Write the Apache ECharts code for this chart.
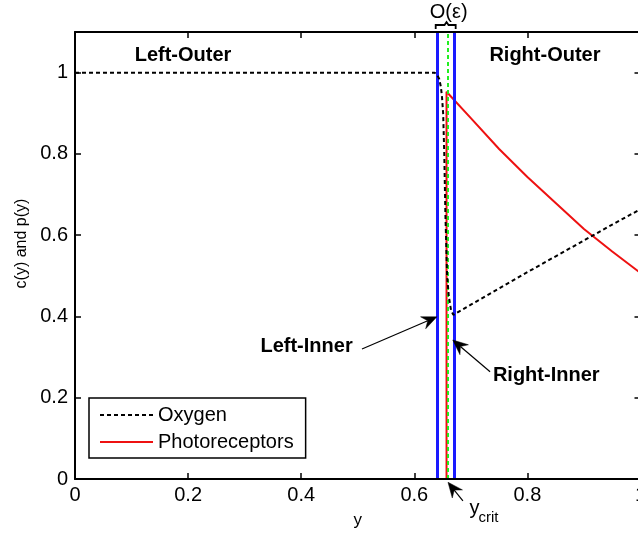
<!DOCTYPE html>
<html>
<head>
<meta charset="utf-8">
<script src="https://cdn.jsdelivr.net/npm/echarts@6/dist/echarts.min.js"></script>
<style>
html,body{margin:0;padding:0;overflow:hidden;background:#fff;}
#chart{width:642px;height:542px;}
</style>
</head>
<body>
<div id="chart"></div>
<script>
// ---- data ----
const oxygenY = [0, 0.636, 0.640, 0.644, 0.647, 0.649, 0.651, 0.653, 0.655, 0.658, 0.661, 0.665, 0.669, 0.70, 0.75, 0.80, 0.85, 0.90, 0.95, 1.0];
const oxygenC = [1, 1, 0.995, 0.985, 0.965, 0.94, 0.90, 0.80, 0.65, 0.50, 0.45, 0.415, 0.404, 0.429, 0.469, 0.509, 0.548, 0.587, 0.626, 0.664];
const photoY = [0, 0.657, 0.657, 0.70, 0.75, 0.80, 0.85, 0.90, 0.95, 1.0];
const photoP = [0, 0, 0.953, 0.888, 0.812, 0.743, 0.679, 0.615, 0.560, 0.507];
const ycrit = 0.657;
const innerBounds = [0.6396, 0.6714];
const xTickValues = [0, 0.2, 0.4, 0.6, 0.8, 1];
const yTickValues = [0, 0.2, 0.4, 0.6, 0.8, 1];
const seriesNames = ['Oxygen', 'Photoreceptors'];

const FONT = 'Liberation Sans, Arial, sans-serif';
const chart = echarts.init(document.getElementById('chart'), null, {renderer: 'canvas'});

const axisBase = {
  type: 'value', min: 0, z: 10,
  axisLine: {show: true, onZero: false, lineStyle: {color: '#000', width: 2}},
  axisTick: {show: true, inside: true, length: 6, lineStyle: {color: '#000', width: 1.5}},
  splitLine: {show: false}
};

const option = {
  animation: false,
  backgroundColor: '#fff',
  grid: {left: 75, top: 32, bottom: 63, right: 1.5, outerBoundsMode: 'none', containLabel: false},
  legend: {
    data: seriesNames,
    orient: 'vertical',
    left: 89, top: 398,
    borderColor: '#000', borderWidth: 1.5,
    padding: [7, 12, 6, 10],
    itemWidth: 53, itemHeight: 14, itemGap: 7,
    itemStyle: {opacity: 0},
    textStyle: {fontSize: 20, fontFamily: FONT, color: '#000', padding: [0, 8, 0, 0]},
    backgroundColor: '#fff'
  },
  xAxis: [
    Object.assign({}, axisBase, {
      position: 'bottom', max: 1, interval: 0.2,
      axisTick: Object.assign({}, axisBase.axisTick, {customValues: xTickValues}),
      axisLabel: {customValues: xTickValues, fontSize: 20, fontFamily: FONT, color: '#000', margin: 6},
      name: 'y', nameLocation: 'middle', nameGap: 33,
      nameTextStyle: {fontSize: 17, fontFamily: FONT, color: '#000'}
    }),
    Object.assign({}, axisBase, {
      position: 'top', max: 1, interval: 0.2,
      axisTick: Object.assign({}, axisBase.axisTick, {customValues: xTickValues}),
      axisLabel: {show: false}
    })
  ],
  yAxis: [
    Object.assign({}, axisBase, {
      position: 'left', max: 1.1, interval: 0.2,
      axisTick: Object.assign({}, axisBase.axisTick, {customValues: yTickValues}),
      axisLabel: {customValues: yTickValues, fontSize: 20, fontFamily: FONT, color: '#000', margin: 7},
      name: 'c(y) and p(y)', nameLocation: 'middle', nameGap: 28,
      nameTextStyle: {fontSize: 16, fontFamily: FONT, color: '#000', padding: [0, 0, 0, 24]}
    }),
    Object.assign({}, axisBase, {
      position: 'right', max: 1.1, interval: 0.2,
      axisTick: Object.assign({}, axisBase.axisTick, {customValues: yTickValues}),
      axisLabel: {show: false}
    })
  ],
  series: [
    {
      name: seriesNames[0], type: 'line', xAxisIndex: 0, yAxisIndex: 0,
      data: oxygenY.map((v, i) => [v, oxygenC[i]]),
      symbol: 'none', z: 5,
      lineStyle: {color: '#000', width: 2, type: [4, 3]},
      itemStyle: {color: '#000'}
    },
    {
      name: seriesNames[1], type: 'line', xAxisIndex: 0, yAxisIndex: 0,
      data: photoY.map((v, i) => [v, photoP[i]]),
      symbol: 'none', z: 4,
      lineStyle: {color: '#ee1111', width: 2},
      itemStyle: {color: '#ee1111'}
    },
    {
      name: 'bounds', type: 'line', xAxisIndex: 0, yAxisIndex: 0, data: [], z: 3,
      markLine: {
        silent: true, symbol: ['none', 'none'], label: {show: false},
        lineStyle: {color: '#1a1aff', width: 3, type: 'solid'},
        emphasis: {disabled: true},
        data: innerBounds.map(v => ({xAxis: v}))
      }
    },
    {
      name: 'ycrit', type: 'line', xAxisIndex: 0, yAxisIndex: 0, data: [], z: 6,
      markLine: {
        silent: true, symbol: ['none', 'none'], label: {show: false},
        lineStyle: {color: '#22ee22', width: 2, type: [4, 3]},
        emphasis: {disabled: true},
        data: [{xAxis: ycrit}]
      }
    }
  ]
};
chart.setOption(option);

// ---- annotations (anchored in data coordinates) ----
const P = (x, y) => chart.convertToPixel({gridIndex: 0}, [x, y]);
const labels = [
  {text: 'Left-Outer', at: [0.191, 1.042], align: 'center'},
  {text: 'Right-Outer', at: [0.831, 1.042], align: 'center'},
  {text: 'Left-Inner', at: [0.491, 0.325], align: 'right'},
  {text: 'Right-Inner', at: [0.739, 0.254], align: 'left'}
];
const arrows = [
  {from: [0.5075, 0.320], to: [0.6400, 0.399]},
  {from: [0.7340, 0.264], to: [0.6680, 0.342]},
  {from: [0.6860, -0.054], to: [0.6596, -0.008]}
];
const g = [];
labels.forEach(l => {
  const p = P(l.at[0], l.at[1]);
  g.push({type: 'text', x: p[0], y: p[1], z: 100,
    style: {text: l.text, font: 'bold 20px ' + FONT, fill: '#000', align: l.align, verticalAlign: 'middle'}});
});
arrows.forEach(a => {
  const t = P(a.from[0], a.from[1]);
  const h = P(a.to[0], a.to[1]);
  const dx = h[0] - t[0], dy = h[1] - t[1];
  const len = Math.sqrt(dx * dx + dy * dy);
  const ux = dx / len, uy = dy / len, nx = -uy, ny = ux;
  const L = 15, W = 6.5, notch = 10;
  const base = [h[0] - ux * L, h[1] - uy * L];
  const mid = [h[0] - ux * notch, h[1] - uy * notch];
  g.push({type: 'polyline', z: 100, shape: {points: [t, mid]}, style: {stroke: '#000', lineWidth: 1.2}});
  g.push({type: 'polygon', z: 100, shape: {points: [h, [base[0] + nx * W, base[1] + ny * W], mid, [base[0] - nx * W, base[1] - ny * W]]},
    style: {fill: '#000', stroke: '#000', lineWidth: 0.5}});
});
// y_crit label
const yc = P(ycrit, 0);
g.push({type: 'text', x: yc[0] + 23, y: yc[1] + 19, z: 100, style: {text: 'y', font: '20px ' + FONT, fill: '#000', align: 'left', verticalAlign: 'top'}});
g.push({type: 'text', x: yc[0] + 32, y: yc[1] + 31, z: 100, style: {text: 'crit', font: '15px ' + FONT, fill: '#000', align: 'left', verticalAlign: 'top'}});
// O(eps) brace over inner region
const b0 = P(innerBounds[0], 1.1), b1 = P(innerBounds[1], 1.1);
const by = b0[1] - 3, bt = b0[1] - 9;
const bm = P(ycrit, 1.1)[0];
g.push({type: 'polyline', z: 100, shape: {points: [[b0[0] - 1, by], [b0[0] - 1, by - 4], [b0[0] + 2, bt + 2], [bm - 2, bt + 2], [bm, bt - 1], [bm + 2, bt + 2], [b1[0] - 2, bt + 2], [b1[0] + 1, by - 4], [b1[0] + 1, by]]},
  style: {stroke: '#000', lineWidth: 1.8, fill: null}});
g.push({type: 'text', x: (b0[0] + b1[0]) / 2 + 3, y: bt - 11, z: 100, style: {text: 'O(ε)', font: '20px ' + FONT, fill: '#000', align: 'center', verticalAlign: 'middle'}});
chart.setOption({graphic: g});
</script>
</body>
</html>
